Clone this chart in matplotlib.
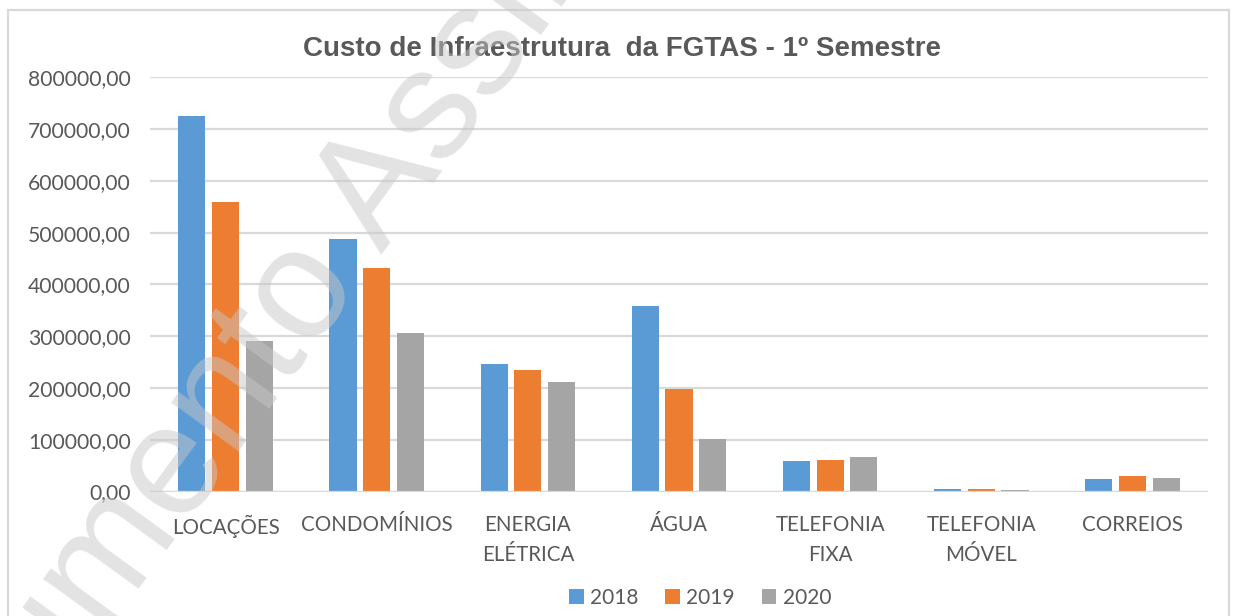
import matplotlib
matplotlib.use("Agg")
import matplotlib.pyplot as plt
from matplotlib.patches import Rectangle, Patch
import numpy as np

categories = ["LOCAÇÕES", "CONDOMÍNIOS", "ENERGIA\nELÉTRICA", "ÁGUA",
              "TELEFONIA\nFIXA", "TELEFONIA\nMÓVEL", "CORREIOS"]
years = ["2018", "2019", "2020"]
values_2018 = [726000, 488000, 247000, 359000, 58000, 4000, 25000]
values_2019 = [560000, 431000, 234000, 198000, 61000, 4000, 30000]
values_2020 = [291000, 307000, 211000, 102000, 66000, 3500, 27000]
yticks = [0, 100000, 200000, 300000, 400000, 500000, 600000, 700000, 800000]
ytick_labels = ["0,00", "100000,00", "200000,00", "300000,00", "400000,00",
                "500000,00", "600000,00", "700000,00", "800000,00"]
title = "Custo de Infraestrutura  da FGTAS - 1º Semestre"
watermark = "Documento Assinado Digitalmente"

colors = ["#5B9BD5", "#ED7D31", "#A5A5A5"]
text_color = "#595959"
grid_color = "#D9D9D9"
W, H = 1236, 616

fig = plt.figure(figsize=(W / 100, H / 100), dpi=100)
fig.patch.set_facecolor("white")

# chart frame
fig.patches.append(Rectangle((8 / W, -10 / H), (1229 - 8) / W, (H - 10 + 10) / H,
                             transform=fig.transFigure, fill=False,
                             edgecolor=grid_color, linewidth=1.6, clip_on=False))

ax = fig.add_axes([150 / W, (H - 491.5) / H, (1208 - 150) / W, (491.5 - 77.3) / H])
x = np.arange(len(categories))
bw = 0.179
step = 0.223
series = [values_2018, values_2019, values_2020]
for i, (vals, c) in enumerate(zip(series, colors)):
    ax.bar(x + (i - 1) * step, vals, width=bw, color=c, zorder=3, label=years[i])

ax.set_xlim(-0.5, len(categories) - 0.5)
ax.set_ylim(0, 800000)
ax.set_yticks(yticks)
ax.set_yticklabels(ytick_labels)
ax.set_xticks(x)
ax.set_xticklabels(categories, linespacing=1.6)
for s in ax.spines.values():
    s.set_visible(False)
ax.yaxis.grid(True, color=grid_color, linewidth=1.6, zorder=0)
ax.axhline(0, color=grid_color, linewidth=1.6, zorder=4)
ax.tick_params(axis="both", length=0, colors=text_color)
ax.tick_params(axis="y", pad=14, labelsize=15.2)
ax.tick_params(axis="x", pad=17, labelsize=14.8)
for lab in ax.get_yticklabels() + ax.get_xticklabels():
    lab.set_fontfamily("Lato")
    lab.set_color(text_color)

fig.text(622 / W, (H - 49) / H, title, ha="center", va="center",
         fontsize=20, fontweight="bold", color=text_color,
         family="Liberation Sans")

handles = [Patch(facecolor=c, edgecolor="none") for c in colors]
leg = fig.legend(handles, years, loc="center", bbox_to_anchor=(700 / W, (H - 598) / H),
                 ncol=3, frameon=False, handlelength=0.7, handleheight=0.7,
                 handletextpad=0.3, columnspacing=1.3,
                 prop={"family": "Lato", "size": 15})
for t in leg.get_texts():
    t.set_color(text_color)

# watermark
fig.text(-111 / W, (H - 933) / H, watermark,
         rotation=54, rotation_mode="anchor", ha="left", va="baseline",
         fontsize=113, family="Liberation Sans", color=(0.78, 0.78, 0.78),
         alpha=0.5, zorder=10)

fig.savefig("out.png", dpi=100, facecolor="white")
